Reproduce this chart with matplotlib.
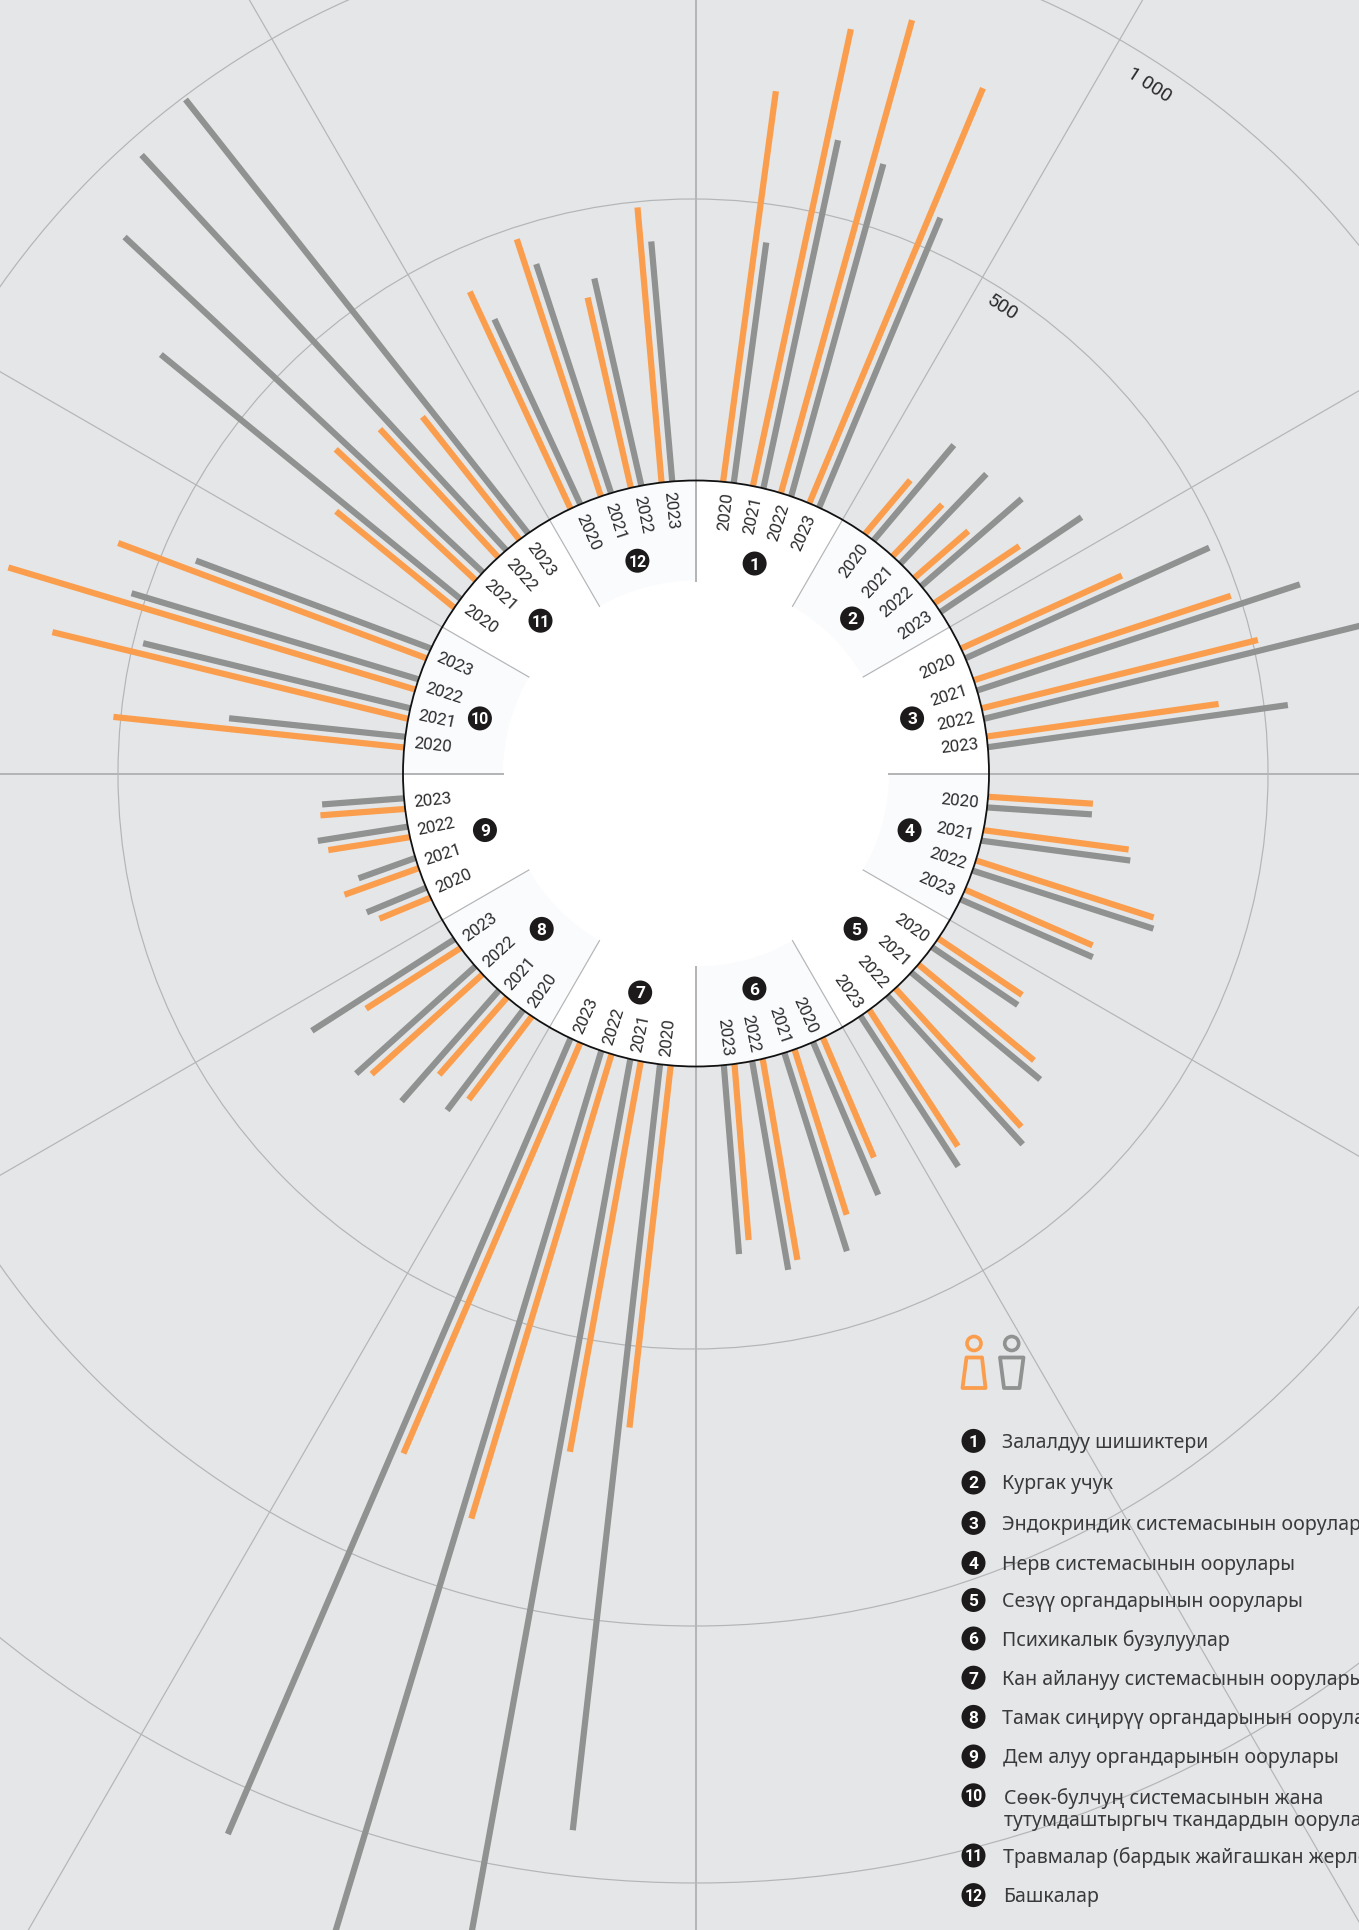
import numpy as np
import matplotlib
matplotlib.use("Agg")
import matplotlib.pyplot as plt
from matplotlib.patches import Circle, Wedge, Polygon

plt.rcParams['font.family'] = ['Roboto', 'DejaVu Sans']

years = ['2020', '2021', '2022', '2023']
group_numbers = [str(i) for i in range(1, 13)]
group_names = [
    'Залалдуу шишиктери', 'Кургак учук', 'Эндокриндик системасынын оорулары',
    'Нерв системасынын оорулары', 'Сезүү органдарынын оорулары', 'Психикалык бузулуулар',
    'Кан айлануу системасынын оорулары', 'Тамак сиңирүү органдарынын оорулары',
    'Дем алуу органдарынын оорулары',
    'Сөөк-булчуң системасынын жана\nтутумдаштыргыч ткандардын оорулары',
    'Травмалар (бардык жайгашкан жерлери)', 'Башкалар']

female = [[705, 836, 878, 805], [126, 128, 128, 183], [316, 484, 509, 419], [188, 262, 334, 249],
          [181, 269, 335, 291], [233, 310, 365, 316], [652, 710, 868, 800], [187, 184, 267, 201],
          [99, 141, 148, 152], [523, 655, 760, 589], [273, 343, 312, 280], [428, 484, 349, 494]]
male = [[434, 637, 617, 562], [223, 222, 238, 304], [479, 608, 760, 542], [188, 269, 340, 258],
        [185, 300, 360, 321], [297, 372, 379, 339], [1379, 1600, 1750, 1550], [225, 264, 287, 303],
        [115, 108, 163, 147], [317, 492, 536, 449], [692, 878, 962, 989], [365, 431, 380, 431]]

# layout: clockwise angle from the top of each year's slot on the ring, and of its bars
slot_angle = [[6.35, 12.25, 17.9, 23.8], [36.25, 43.2, 49.2, 55.5], [65.8, 72.5, 78.2, 83.8],
              [95.6, 102.2, 108.3, 114.4], [125.3, 131.7, 138.2, 144.8], [155.4, 161.4, 167.9, 173.5],
              [186, 191.9, 197.8, 204.3], [215.1, 221.2, 227.8, 234.5], [246, 252.2, 258.5, 264.1],
              [276.15, 281.8, 287.7, 294.2], [305.5, 312.3, 318.6, 324], [335.7, 342.1, 348.2, 354.3]]
bar_angle = [[7.7, 12.1, 15.5, 22.7], [40.1, 43.8, 49, 56.1], [65.6, 71.8, 76.1, 82],
             [93.8, 97.6, 107.8, 113.6], [124, 129.7, 137.7, 147], [156.9, 162.5, 170.2, 175.4],
             [186.5, 190.3, 196.8, 203.3], [217.2, 221.3, 228, 237.3], [247.5, 250.3, 261, 265.7],
             [276, 283.7, 286.7, 290.5], [309.2, 313.1, 317.3, 321.7], [335.1, 341.9, 347.2, 355]]
badge_radius = [218, 220, 223, 221, 222.6, 222.8, 226, 219, 218.5, 223, 218, 220.7]
badge_angle = [15.6, 45.2, 75.7, 104.9, 134.2, 164.8, 194.3, 224.8, 255, 284.3, 314.5, 344.6]

grid_labels = ['500', '1 000']
grid_rings = [(693, 775, 575), (695, 777, 850), (696, 774, 1110)]

BG, GRID, ORANGE, GREY = '#E5E6E8', '#B4B5B7', '#FA9E4D', '#909291'
INK, PALE = '#2B2A2C', '#FAFBFD'
CX, CY, R_IN, R0, K = 696, 774.5, 193, 293, 0.559
PX = 72 / 100

fig = plt.figure(figsize=(13.59, 19.31), dpi=100, facecolor=BG)
ax = fig.add_axes([0, 0, 1, 1])
ax.set_xlim(0, 1359)
ax.set_ylim(1931, 0)
ax.axis('off')


def polar(r, deg):
    a = np.radians(deg)
    return CX + r * np.sin(a), CY - r * np.cos(a)


def unit(deg):
    a = np.radians(deg)
    return np.array([np.sin(a), -np.cos(a)])


for gx, gy, r in grid_rings:
    ax.add_patch(Circle((gx, gy), r, fill=False, ec=GRID, lw=1.2 * PX, zorder=1))
for k in range(12):
    d = k * 30
    x0, y0 = polar(R_IN, d)
    x1, y1 = polar(2600, d)
    ax.plot([x0, x1], [y0, y1], color=GRID, lw=(2.0 if k % 3 == 0 else 1.2) * PX, zorder=1.5)

for s in range(12):
    for j in range(4):
        for vals, off, col in ((female, -1.05, ORANGE), (male, 1.05, GREY)):
            u = unit(bar_angle[s][j])
            base = np.array(polar(R0, slot_angle[s][j] + off))
            start = base - 8 * u
            end = base + vals[s][j] * K * u
            ax.plot([start[0], end[0]], [start[1], end[1]], color=col, lw=6.2 * PX,
                    solid_capstyle='butt', zorder=2)

ax.add_patch(Circle((CX, CY), R0, fc='white', ec='none', zorder=3))
for s in range(1, 12, 2):
    # screen y runs downward, so wedge angles are measured clockwise from +x
    ax.add_patch(Wedge((CX, CY), R0, s * 30 - 90, s * 30 - 60, width=R0 - R_IN,
                       fc=PALE, ec='none', zorder=3.1))
ax.add_patch(Circle((CX, CY), R0, fill=False, ec='#111111', lw=1.8 * PX, zorder=5))
for k in range(12):
    d = k * 30
    x0, y0 = polar(R_IN, d)
    x1, y1 = polar(R0, d)
    ax.plot([x0, x1], [y0, y1], color=GRID, lw=(2.0 if k % 3 == 0 else 1.2) * PX, zorder=4)

for s in range(12):
    for j in range(4):
        phi = slot_angle[s][j]
        x, y = polar(265, phi + 0.2)
        rot = 90 - phi if phi < 180 else 270 - phi
        ax.text(x, y, years[j], fontsize=12.2, color=INK, rotation=rot, rotation_mode='anchor',
                ha='center', va='center', zorder=6)
    x, y = polar(badge_radius[s], badge_angle[s])
    ax.add_patch(Circle((x, y), 12, fc='#1C1A1B', ec='none', zorder=6))
    ax.text(x, y + 0.5, group_numbers[s], fontsize=12.5 if s < 9 else 11.5, color='white', fontweight='bold',
            ha='center', va='center', zorder=7)

for lab, r in zip(grid_labels, [558, 825]):
    x, y = polar(r, 33.3)
    ax.text(x, y, lab, fontsize=14, color=INK, rotation=-33, rotation_mode='anchor',
            ha='center', va='center', zorder=6)

# legend
leg_y = [1441.9, 1483.5, 1523.9, 1563.9, 1601, 1639.5, 1678.7, 1717.9, 1757.5, 1796.3, 1856.5, 1896.1]
leg_x = [1001.7] * 8 + [1003, 1004, 1003, 1003]
for i, (name, y, tx) in enumerate(zip(group_names, leg_y, leg_x)):
    ax.add_patch(Circle((973.5, y), 12, fc='#1C1A1B', ec='none', zorder=6))
    ax.text(973.5, y + 0.5, group_numbers[i], fontsize=12.5 if i < 9 else 11.5, color='white', fontweight='bold',
            ha='center', va='center', zorder=7)
    ax.text(tx, y + (13 if '\n' in name else 1), name, fontsize=14.1, color='#3A3A3C',
            family=['Noto Sans', 'DejaVu Sans'], ha='left', va='center', linespacing=1.1, zorder=6)

# person icons
ax.add_patch(Circle((974, 1344.5), 7, fill=False, ec=ORANGE, lw=3.6 * PX, zorder=6))
ax.add_patch(Polygon([(966.5, 1358.5), (982, 1358.5), (985.5, 1389), (962.5, 1389)], closed=True,
                     fill=False, ec=ORANGE, lw=3.8 * PX, joinstyle='round', zorder=6))
ax.add_patch(Circle((1011.7, 1344.5), 7, fill=False, ec=GREY, lw=3.6 * PX, zorder=6))
ax.add_patch(Polygon([(1000, 1358.5), (1023.5, 1358.5), (1019.5, 1389), (1004, 1389)], closed=True,
                     fill=False, ec=GREY, lw=3.8 * PX, joinstyle='round', zorder=6))

fig.savefig('out.png', dpi=100, facecolor=BG)
